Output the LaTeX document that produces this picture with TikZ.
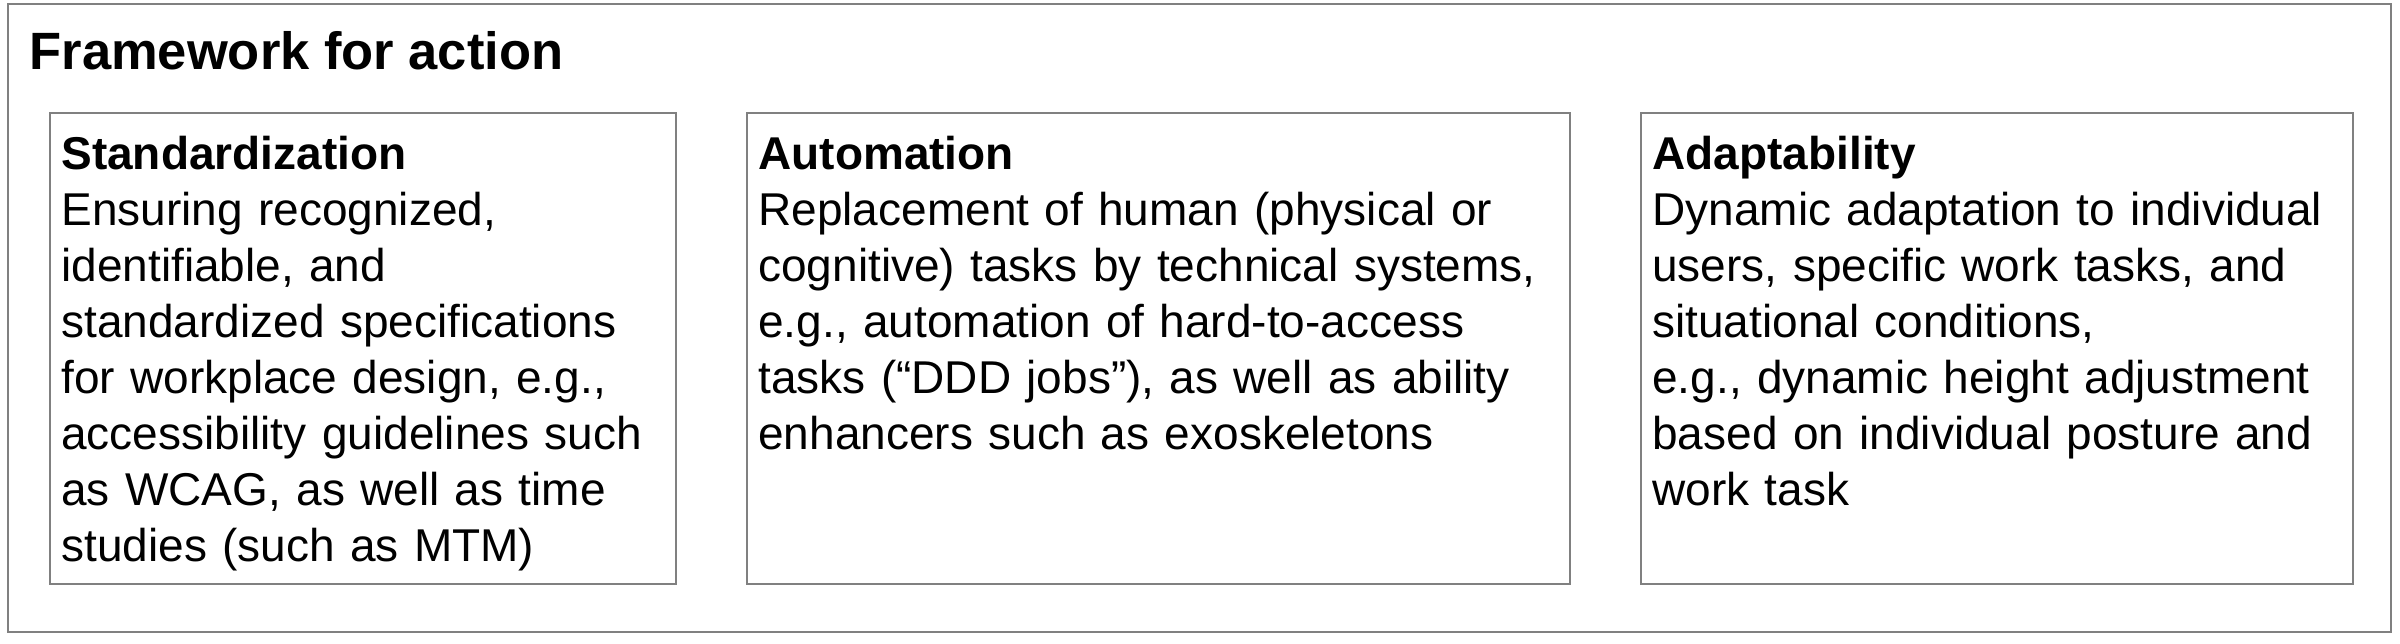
\documentclass[tikz,border=0pt]{standalone}
\usepackage{fontspec}
\setmainfont{Liberation Sans}
\begin{document}
\begin{tikzpicture}[x=1pt,y=-1pt,
  frame/.style={draw=black!50, line width=2pt, rectangle, inner sep=0pt, outer sep=0pt, anchor=north west},
  boxtext/.style={anchor=base west, inner sep=0pt, outer sep=0pt, text width=#1, align=left,
    font={\fontsize{46}{56.05}\selectfont}},
  titletext/.style={anchor=base west, inner sep=0pt, outer sep=0pt, font={\fontsize{52.5}{60}\selectfont\bfseries}}
]
\useasboundingbox (0,0) rectangle (2400,643);
\node[frame, minimum width=2383pt, minimum height=628pt] (outer) at (8,3.7) {};
\node[titletext] (title) at (29.6,69) {Framework for action};

\node[frame, minimum width=626pt, minimum height=471.5pt] (b1) at (50,112.8) {};
\node[frame, minimum width=823pt, minimum height=471.5pt] (b2) at (747,112.8) {};
\node[frame, minimum width=712pt, minimum height=471.5pt] (b3) at (1641,112.8) {};

\node[boxtext=600pt] (t1) at ([xshift=11.4pt,yshift=-56.7pt]b1.north west)
  {\textbf{Standardization}\\
   Ensuring recognized,\\
   identifiable, and\\
   standardized specifications\\
   for workplace design, e.g.,\\
   accessibility guidelines such\\
   as WCAG, as well as time\\
   studies (such as MTM)};
\node[boxtext=800pt] (t2) at ([xshift=11.4pt,yshift=-56.7pt]b2.north west)
  {\textbf{Automation}\\
   Replacement of human (physical or\\
   cognitive) tasks by technical systems,\\
   e.g., automation of hard-to-access\\
   tasks (“DDD jobs”), as well as ability\\
   enhancers such as exoskeletons};
\node[boxtext=690pt] (t3) at ([xshift=11.4pt,yshift=-56.7pt]b3.north west)
  {\textbf{Adaptability}\\
   Dynamic adaptation to individual\\
   users, specific work tasks, and\\
   situational conditions,\\
   e.g., dynamic height adjustment\\
   based on individual posture and\\
   work task};
\end{tikzpicture}
\end{document}
